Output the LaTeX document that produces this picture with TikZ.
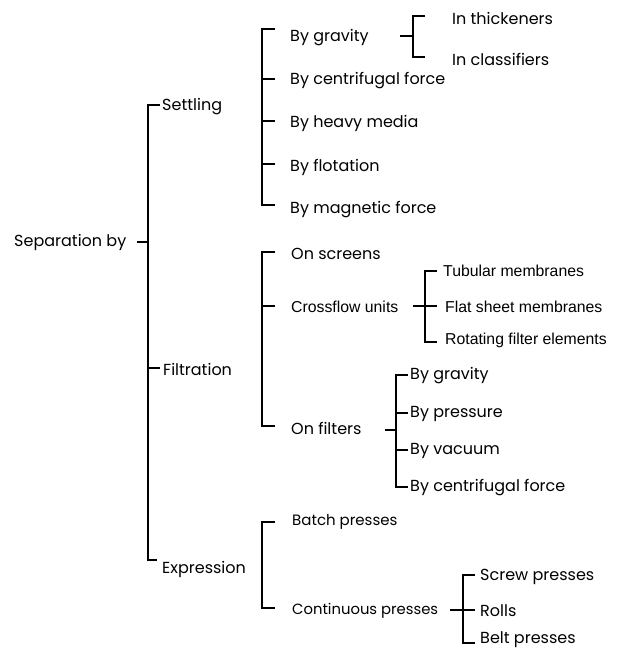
\documentclass[tikz,border=0pt]{standalone}
\usepackage{fontspec}
\setmainfont{Poppins}
\newfontfamily\helv{Liberation Sans}
\begin{document}
\begin{tikzpicture}[x=1pt,y=-1pt,
  lbl/.style={anchor=west,inner sep=0pt,font=\fontsize{16}{18}\selectfont},
  hlbl/.style={anchor=west,inner sep=0pt,font=\helv\fontsize{15.8}{18}\selectfont},
  br/.style={line width=1.7pt,line cap=butt,line join=miter}]
\useasboundingbox (0,0) rectangle (621,652);

% ---- labels ----
\node[lbl] (root) at (14,242) {Separation by};
\node[lbl] (set) at (162,107) {Settling};
\node[lbl] (fil) at (163,369) {Filtration};
\node[lbl] (exp) at (162,569) {Expression};

\node[lbl] (s1) at (290,38) {By gravity};
\node[lbl] (s2) at (290,81) {By centrifugal force};
\node[lbl] (s3) at (290,123) {By heavy media};
\node[lbl] (s4) at (290,167) {By flotation};
\node[lbl] (s5) at (290,210) {By magnetic force};
\node[lbl] (g1) at (452,18) {In thickeners};
\node[lbl] (g2) at (452,59) {In classifiers};

\node[lbl] (f1) at (291,254) {On screens};
\node[hlbl] (f2) at (291,307) {Crossflow units};
\node[lbl] (f3) at (291,428) {On filters};
\node[hlbl] (c1) at (443,271) {Tubular membranes};
\node[hlbl] (c2) at (445,307) {Flat sheet membranes};
\node[hlbl] (c3) at (445,340) {Rotating filter elements};
\node[lbl] (o1) at (410,376) {By gravity};
\node[lbl] (o2) at (410,414) {By pressure};
\node[lbl] (o3) at (410,451) {By vacuum};
\node[lbl] (o4) at (410,488) {By centrifugal force};

\node[lbl,font=\fontsize{15}{18}\selectfont] (e1) at (292,522) {Batch presses};
\node[lbl,font=\fontsize{14.8}{18}\selectfont] (e2) at (292,611) {Continuous presses};
\node[lbl] (p1) at (480,577) {Screw presses};
\node[lbl] (p2) at (480,611) {Rolls};
\node[lbl] (p3) at (480,640) {Belt presses};

% ---- bracket points ----
\coordinate (rt) at (137,242);
\coordinate (rs) at (148,242);
\coordinate (a1) at (160,105); \coordinate (a2) at (160,368); \coordinate (a3) at (157,560);

\coordinate (sa) at (275,29); \coordinate (sb) at (275,79); \coordinate (sc) at (275,121);
\coordinate (sd) at (275,164); \coordinate (se) at (275,205);
\coordinate (gt) at (400,36); \coordinate (gs) at (413,36);
\coordinate (ga) at (425,16); \coordinate (gb) at (425,57);

\coordinate (fa) at (275,252); \coordinate (fb) at (275,306); \coordinate (fc) at (275,426);
\coordinate (ct) at (413,306); \coordinate (ce) at (437,306);
\coordinate (ca) at (437,271); \coordinate (cb) at (437,342);
\coordinate (ot) at (385,430); \coordinate (os) at (396,430);
\coordinate (oa) at (408,375); \coordinate (ob) at (408,413);
\coordinate (oc) at (408,450); \coordinate (od) at (408,487);

\coordinate (ea) at (275,522); \coordinate (eb) at (275,608);
\coordinate (pt) at (450,610); \coordinate (pe) at (475,610);
\coordinate (pa) at (475,575); \coordinate (pb) at (475,643);

% ---- main bracket ----
\draw[br] (rt) -- (rs);
\draw[br] (a1) -- ++(-12,0) |- (a3);
\draw[br] (a2) -- ++(-12,0);

% ---- settling ----
\draw[br] (sa) -- ++(-13,0) |- (se);
\foreach \p in {sb,sc,sd} \draw[br] (\p) -- ++(-13,0);
\draw[br] (gt) -- (gs);
\draw[br] (ga) -- ++(-12,0) |- (gb);

% ---- filtration ----
\draw[br] (fa) -- ++(-13,0) |- (fc);
\draw[br] (fb) -- ++(-13,0);
\draw[br] (ct) -- (ce);
\draw[br] (ca) -- ++(-12,0) |- (cb);
\draw[br] (ot) -- (os);
\draw[br] (oa) -- ++(-12,0) |- (od);
\foreach \p in {ob,oc} \draw[br] (\p) -- ++(-12,0);

% ---- expression ----
\draw[br] (ea) -- ++(-13,0) |- (eb);
\draw[br] (pt) -- (pe);
\draw[br] (pa) -- ++(-12,0) |- (pb);
\end{tikzpicture}
\end{document}
